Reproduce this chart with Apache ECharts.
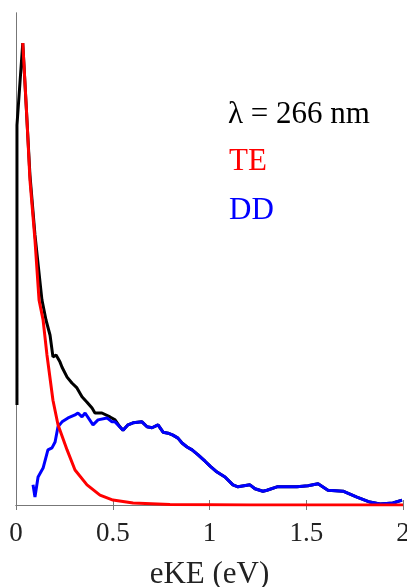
<!DOCTYPE html>
<html>
<head>
<meta charset="utf-8">
<script src="https://cdn.jsdelivr.net/npm/echarts@6/dist/echarts.min.js"></script>
<style>html,body{margin:0;padding:0;background:#fff}#c{width:407px;height:587px}</style>
</head>
<body>
<div id="c"></div>
<script>
// x: eKE (eV), y: intensity (arb. units)
var totalX = [0.005,0.005,0.035,0.072,0.098,0.134,0.155,0.176,0.191,0.207,0.227,0.238,0.264,0.289,0.315,0.341,0.367,0.393,0.408,0.444,0.486,0.512,0.537,0.553,0.579,0.605,0.651,0.677,0.703,0.734,0.760,0.786,0.811,0.837,0.858,0.884,0.910,0.941,0.977,1.003,1.039,1.080,1.121,1.147,1.209,1.235,1.276,1.297,1.349,1.452,1.509,1.561,1.612,1.690,1.762,1.829,1.881,1.948,1.995];
var totalY = [0.203,0.772,0.939,0.671,0.549,0.417,0.376,0.345,0.301,0.305,0.291,0.280,0.260,0.248,0.238,0.220,0.209,0.197,0.187,0.187,0.179,0.173,0.159,0.152,0.163,0.167,0.169,0.159,0.157,0.163,0.148,0.146,0.142,0.136,0.126,0.118,0.112,0.102,0.089,0.079,0.067,0.057,0.041,0.037,0.041,0.033,0.028,0.030,0.037,0.037,0.039,0.043,0.030,0.028,0.016,0.006,0.002,0.004,0.010];

var teX = [0.035,0.054,0.072,0.098,0.119,0.140,0.160,0.191,0.217,0.264,0.305,0.367,0.434,0.501,0.605,0.796,1.21,2.0];
var teY = [0.939,0.803,0.661,0.539,0.417,0.376,0.305,0.213,0.163,0.112,0.071,0.041,0.020,0.010,0.004,0.001,0.0,0.0];

var ddX = [0.088,0.098,0.114,0.140,0.165,0.186,0.202,0.217,0.238,0.269,0.305,0.320,0.341,0.357,0.398,0.424,0.470,0.496,0.512,0.553,0.579,0.605,0.651,0.677,0.703,0.734,0.760,0.786,0.811,0.837,0.858,0.884,0.910,0.941,0.977,1.003,1.039,1.080,1.121,1.147,1.209,1.235,1.276,1.297,1.349,1.452,1.509,1.561,1.612,1.690,1.762,1.829,1.881,1.948,1.995];
var ddY = [0.041,0.016,0.057,0.075,0.112,0.116,0.128,0.159,0.169,0.177,0.183,0.187,0.179,0.187,0.163,0.173,0.177,0.169,0.169,0.152,0.163,0.167,0.169,0.159,0.157,0.163,0.148,0.146,0.142,0.136,0.126,0.118,0.112,0.102,0.089,0.079,0.067,0.057,0.041,0.037,0.041,0.033,0.028,0.030,0.037,0.037,0.039,0.043,0.030,0.028,0.016,0.006,0.002,0.004,0.010];

var xTicks = [0, 0.5, 1, 1.5, 2];
var xName = 'eKE (eV)';
var notes = ['\u03bb = 266 nm', 'TE', 'DD'];

function pairs(xs, ys){ return xs.map(function(x,i){ return [x, ys[i]]; }); }

var serif = '"Liberation Serif","DejaVu Serif",serif';
var axisGrey = '#777';
var chart = echarts.init(document.getElementById('c'));
chart.setOption({
  animation: false,
  grid: {left: 16, right: 4, top: 13, bottom: 82, containLabel: false, outerBoundsMode: 'none'},
  xAxis: [{
    type: 'value', min: 0, max: 2, interval: 0.5,
    name: xName, nameLocation: 'middle', nameGap: 54,
    nameTextStyle: {fontFamily: serif, fontSize: 31, color: '#222'},
    axisLine: {show: true, lineStyle: {color: axisGrey, width: 1}},
    axisTick: {show: true, inside: true, length: 5, lineStyle: {color: axisGrey}},
    axisLabel: {fontFamily: serif, fontSize: 27, color: '#222', margin: 15, hideOverlap: false,
      formatter: function(v){ return xTicks.indexOf(v) >= 0 ? String(v) : ''; }},
    splitLine: {show: false}
  },{
    type: 'value', min: 0, max: 2, interval: 0.5, position: 'top',
    axisLine: {show: true, lineStyle: {color: axisGrey, width: 1}},
    axisTick: {show: true, inside: true, length: 5, lineStyle: {color: axisGrey}},
    axisLabel: {show: false}, splitLine: {show: false}
  }],
  yAxis: [{
    type: 'value', min: 0, max: 1,
    axisLine: {show: true, lineStyle: {color: axisGrey, width: 1}},
    axisTick: {show: false}, axisLabel: {show: false}, splitLine: {show: false}
  },{
    type: 'value', min: 0, max: 1, position: 'right',
    axisLine: {show: true, lineStyle: {color: axisGrey, width: 1}},
    axisTick: {show: false}, axisLabel: {show: false}, splitLine: {show: false}
  }],
  series: [
    {type: 'line', data: pairs(totalX, totalY), showSymbol: false, lineStyle: {color: '#000', width: 3}, z: 2},
    {type: 'line', data: pairs(ddX, ddY), showSymbol: false, lineStyle: {color: '#0000ff', width: 3}, z: 3},
    {type: 'line', data: pairs(teX, teY), showSymbol: false, lineStyle: {color: '#ff0000', width: 3}, z: 4}
  ],
  graphic: [
    {type: 'text', left: 228, top: 99, style: {text: notes[0], fontFamily: serif, fontSize: 31, fill: '#000'}},
    {type: 'text', left: 229, top: 146, style: {text: notes[1], fontFamily: serif, fontSize: 31, fill: '#ff0000'}},
    {type: 'text', left: 229, top: 195, style: {text: notes[2], fontFamily: serif, fontSize: 31, fill: '#0000ff'}}
  ]
});
</script>
</body>
</html>
